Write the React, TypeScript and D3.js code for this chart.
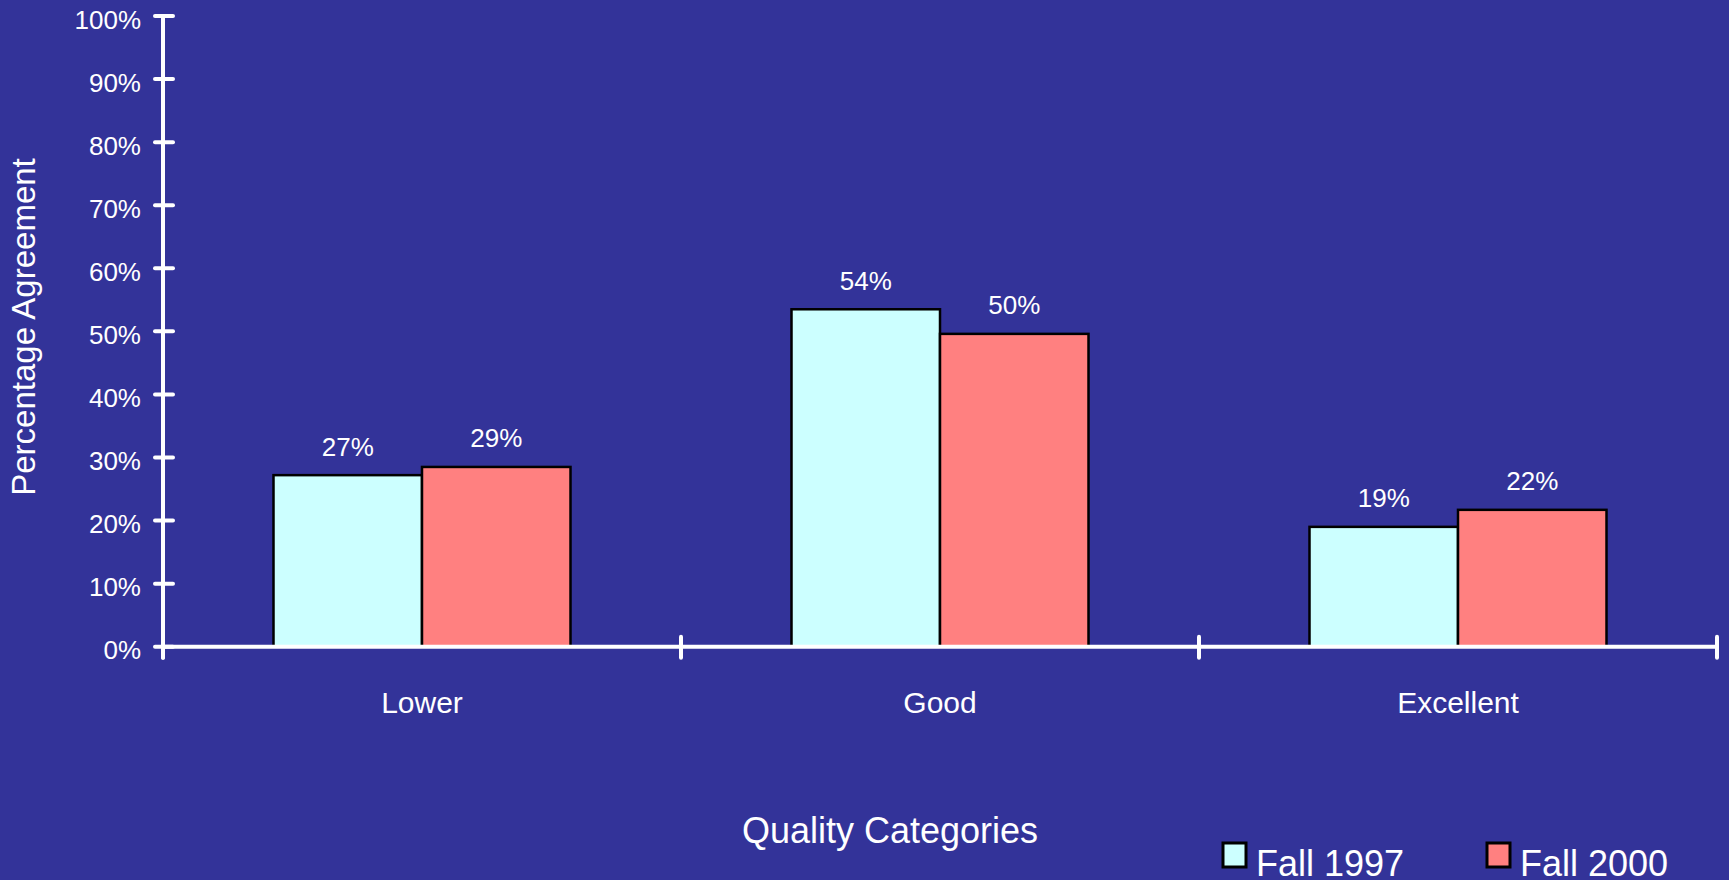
import React from "react";
import * as d3 from "d3";

const categories = ["Lower", "Good", "Excellent"];
const seriesNames = ["Fall 1997", "Fall 2000"];
const fall1997 = [27.2, 53.5, 19.0];
const fall2000 = [28.5, 49.6, 21.7];
const yTicks = [0, 10, 20, 30, 40, 50, 60, 70, 80, 90, 100];
const seriesColors = ["#CCFFFF", "#FF8080"];

const W = 1729;
const H = 880;
const BG = "#333399";
const FONT = "'Liberation Sans', Arial, Helvetica, sans-serif";

export default function App() {
  const left = 163;
  const right = 1717;
  const y0 = 646.7;
  const yTop = 16;

  const y = d3.scaleLinear().domain([0, 100]).range([y0, yTop]);
  const x0 = d3.scaleBand<string>().domain(categories).range([left, right]).padding(0);
  const bw = x0.bandwidth();
  const groupPad = 110.5;
  const x1 = d3.scaleBand<string>().domain(seriesNames).range([groupPad, bw - groupPad]).padding(0);
  const seriesValues = [fall1997, fall2000];

  const catTicks = [left, ...categories.map((c) => (x0(c) as number) + bw)];

  return (
    <svg
      width={W}
      height={H}
      style={{ position: "absolute", left: 0, top: 0, background: BG, fontFamily: FONT }}
    >
      <rect x={0} y={0} width={W} height={H} fill={BG} />
      {/* bars */}
      {categories.map((c, ci) => (
        <g key={c} transform={`translate(${x0(c)},0)`}>
          {seriesNames.map((s, si) => {
            const v = seriesValues[si][ci];
            const bx = x1(s) as number;
            return (
              <g key={s}>
                <rect
                  x={bx}
                  y={y(v)}
                  width={x1.bandwidth()}
                  height={y0 - y(v)}
                  fill={seriesColors[si]}
                  stroke="#000"
                  strokeWidth={2.5}
                />
                <text
                  x={bx + x1.bandwidth() / 2}
                  y={y(v) - 19.5}
                  fill="#fff"
                  fontSize={26}
                  textAnchor="middle"
                >
                  {`${Math.round(v)}%`}
                </text>
              </g>
            );
          })}
        </g>
      ))}
      {/* y axis */}
      <line x1={left} x2={left} y1={yTop} y2={y0 + 11} stroke="#fff" strokeWidth={4} strokeLinecap="round" />
      {yTicks.map((t) => (
        <g key={t}>
          <line x1={left - 8} x2={left + 10} y1={y(t)} y2={y(t)} stroke="#fff" strokeWidth={4} strokeLinecap="round" />
          <text x={141} y={y(t) + 12.5} fill="#fff" fontSize={26} textAnchor="end">
            {`${t}%`}
          </text>
        </g>
      ))}
      {/* x axis */}
      <line x1={left} x2={right} y1={y0} y2={y0} stroke="#fff" strokeWidth={4} strokeLinecap="round" />
      {catTicks.map((tx, i) => (
        <line key={i} x1={tx} x2={tx} y1={y0 - 10} y2={y0 + 11} stroke="#fff" strokeWidth={4} strokeLinecap="round" />
      ))}
      {categories.map((c) => (
        <text key={c} x={(x0(c) as number) + bw / 2} y={713} fill="#fff" fontSize={30} textAnchor="middle">
          {c}
        </text>
      ))}
      {/* axis titles */}
      <text x={890} y={843} fill="#fff" fontSize={36} textAnchor="middle">
        Quality Categories
      </text>
      <text
        transform={`translate(35,327) rotate(-90)`}
        fill="#fff"
        fontSize={33}
        textAnchor="middle"
      >
        Percentage Agreement
      </text>
      {/* legend */}
      {seriesNames.map((s, i) => {
        const lx = [1223, 1487][i];
        return (
          <g key={s}>
            <rect x={lx} y={843} width={23} height={24} fill={seriesColors[i]} stroke="#000" strokeWidth={3} />
            <text x={lx + 33} y={876} fill="#fff" fontSize={36}>
              {s}
            </text>
          </g>
        );
      })}
    </svg>
  );
}
